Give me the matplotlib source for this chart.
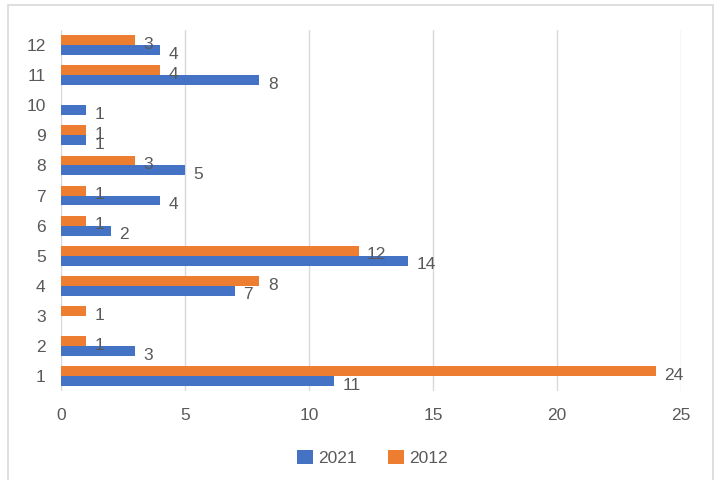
import numpy as np
import matplotlib.pyplot as plt
from matplotlib.patches import Rectangle

categories = ["1", "2", "3", "4", "5", "6", "7", "8", "9", "10", "11", "12"]
vals_2021 = [11, 3, np.nan, 7, 14, 2, 4, 5, 1, 1, 8, 4]
vals_2012 = [24, 1, 1, 8, 12, 1, 1, 3, 1, np.nan, 4, 3]

blue = "#4472C4"
orange = "#ED7D31"
text_col = "#595959"

plt.rcParams["font.family"] = ["Liberation Sans", "DejaVu Sans"]

fig = plt.figure(figsize=(7.23, 4.80), dpi=100)
ax = fig.add_axes([0.0844, 0.185, 0.8576, 0.7525])

y = np.arange(len(categories))
h = 0.33
b1 = ax.barh(y - h / 2, vals_2021, height=h, color=blue, label="2021")
b2 = ax.barh(y + h / 2, vals_2012, height=h, color=orange, label="2012")

# value labels, skip empty entries
for bars, vals in [(b1, vals_2021), (b2, vals_2012)]:
    for bar, v in zip(bars, vals):
        if np.isnan(v):
            continue
        ax.annotate(f"{int(v)}", (v, bar.get_y() + bar.get_height() / 2),
                    xytext=(6, -3), textcoords="offset points",
                    ha="left", va="center", fontsize=12.5, color=text_col)

ax.set_xlim(0, 25)
ax.set_ylim(-0.5, len(categories) - 0.5)
ax.set_xticks([0, 5, 10, 15, 20, 25])
ax.set_yticks(y)
ax.set_yticklabels(categories)
ax.tick_params(length=0, labelsize=12.5, labelcolor=text_col)
ax.tick_params(axis="x", pad=12)
ax.tick_params(axis="y", pad=11)
ax.grid(axis="x", color="#D9D9D9", linewidth=1)
ax.set_axisbelow(True)
for s in ax.spines.values():
    s.set_visible(False)

fig.legend(handles=[b1, b2], loc="center", bbox_to_anchor=(0.515, 0.046),
           ncol=2, frameon=False, fontsize=12.5, labelcolor=text_col,
           handlelength=0.9, handleheight=0.9, handletextpad=0.3,
           columnspacing=1.8)

# light chart border
fig.patches.append(Rectangle((8 / 723, -0.1), 705 / 723, 1.1 - 5 / 480,
                             transform=fig.transFigure, fill=False,
                             edgecolor="#D9D9D9", linewidth=1.2))

plt.savefig("out.png", dpi=100)
